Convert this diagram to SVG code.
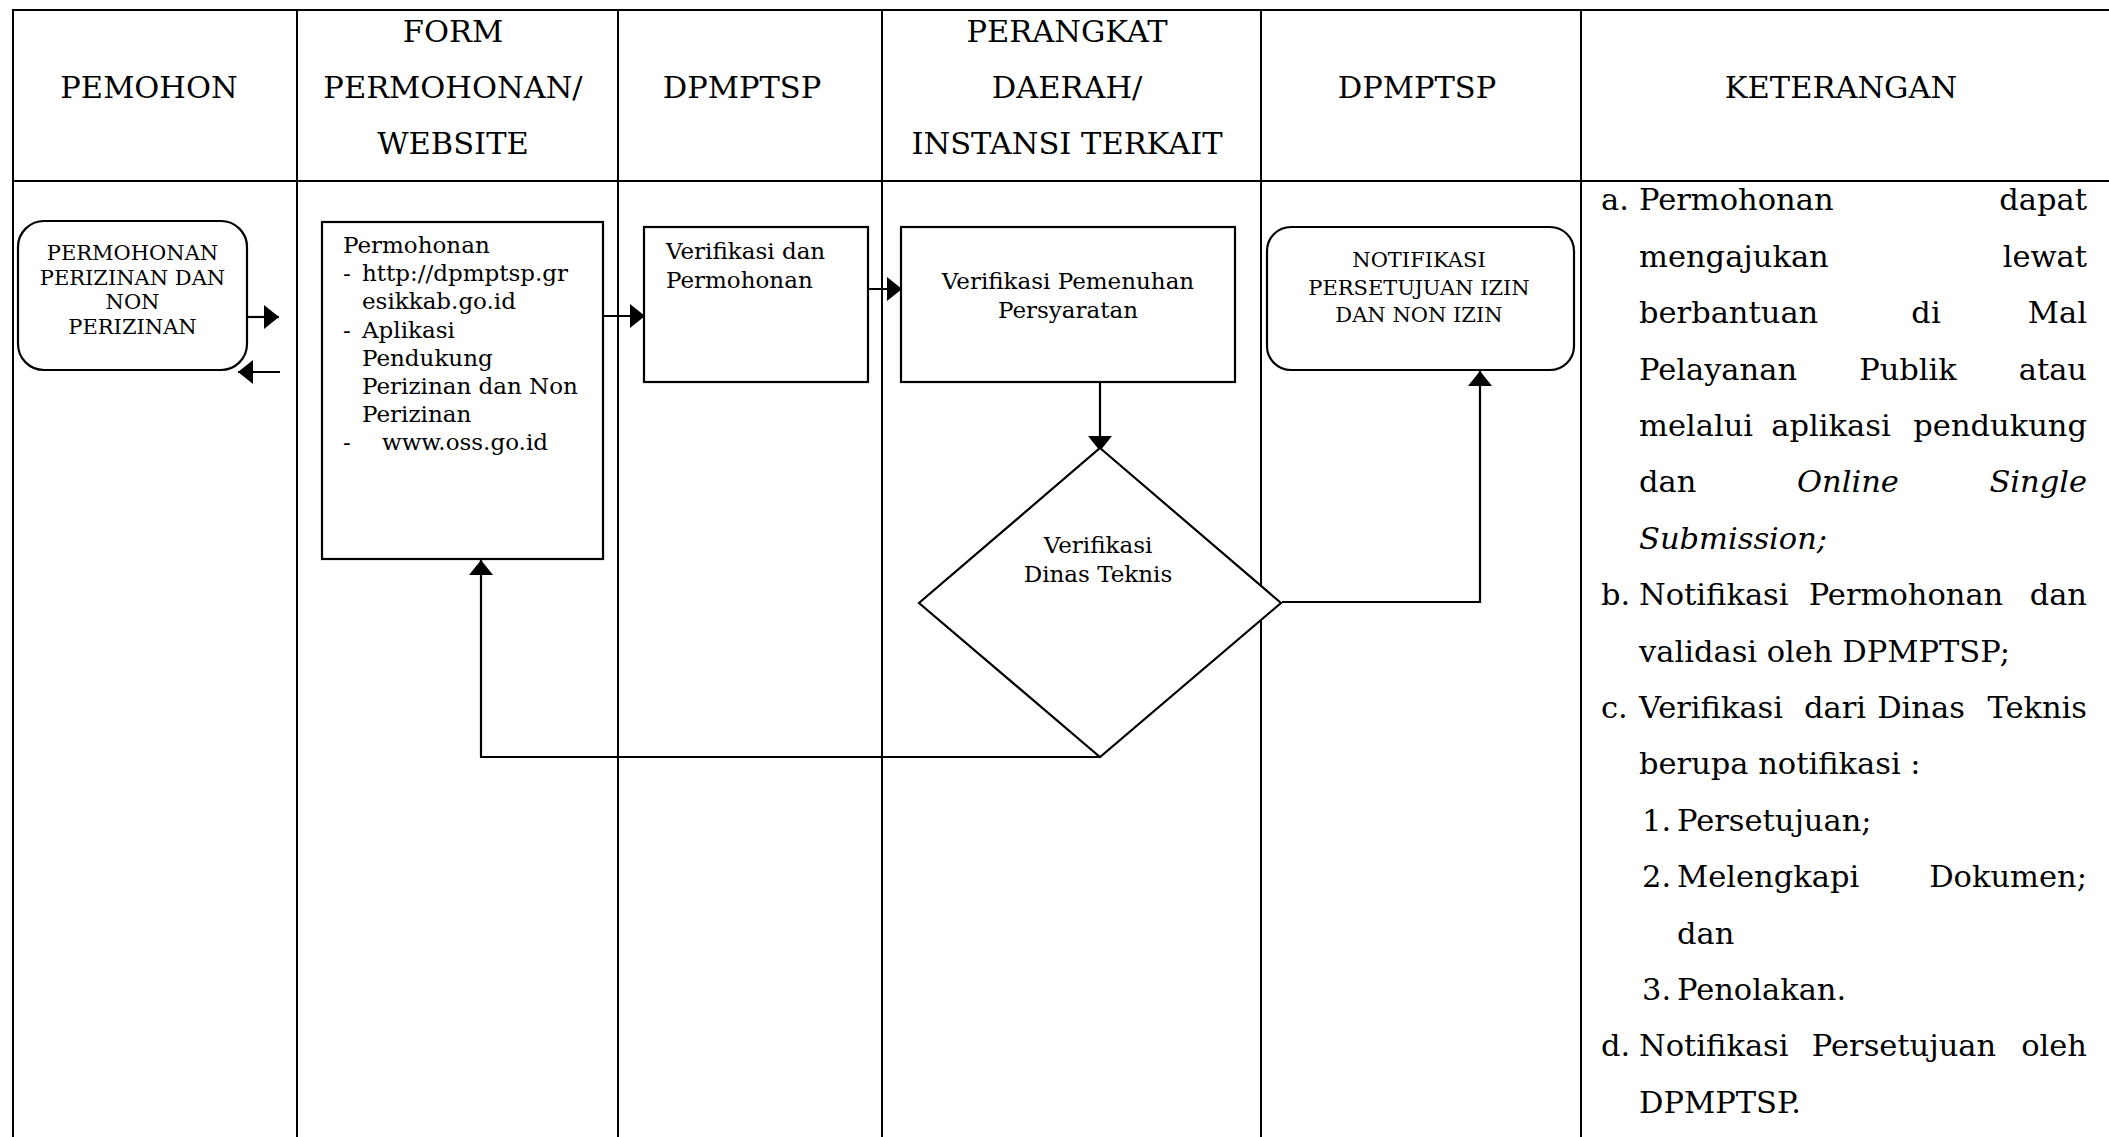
<svg xmlns="http://www.w3.org/2000/svg" width="2109" height="1137" viewBox="0 0 2109 1137">
<defs>
<style>
text{font-family:"DejaVu Serif","Liberation Serif",serif;fill:#000}
.h{font-size:30.5px;text-anchor:middle}
.k{font-size:30.5px}
.ki{font-size:30.5px;font-style:italic}
.e{text-anchor:end}
.m{text-anchor:middle}
.b{font-size:23px}
.c{font-size:21px;text-anchor:middle}
.grid{stroke:#000;stroke-width:2;fill:none}
.box{stroke:#000;stroke-width:2.2;fill:#fff}
.con{stroke:#000;stroke-width:2.2;fill:none}
</style>
<marker id="ah" markerUnits="userSpaceOnUse" markerWidth="16" markerHeight="24" refX="15" refY="12" orient="auto">
<path d="M0,0 L15,12 L0,24 z" fill="#000"/>
</marker>
</defs>
<rect width="2109" height="1137" fill="#fff"/>
<g id="table">
<line class="grid" x1="12" y1="10" x2="2109" y2="10" stroke-width="2.4"/>
<line class="grid" x1="12" y1="181" x2="2109" y2="181" stroke-width="2.6"/>
<line class="grid" x1="13" y1="9" x2="13" y2="1137"/>
<line class="grid" x1="297" y1="9" x2="297" y2="1137"/>
<line class="grid" x1="618" y1="9" x2="618" y2="1137"/>
<line class="grid" x1="882" y1="9" x2="882" y2="1137"/>
<line class="grid" x1="1261" y1="9" x2="1261" y2="1137"/>
<line class="grid" x1="1581" y1="9" x2="1581" y2="1137"/>
<text class="h" x="149" y="98">PEMOHON</text>
<text class="h" x="453" y="41.6">FORM</text>
<text class="h" x="453" y="98">PERMOHONAN/</text>
<text class="h" x="453" y="154.4">WEBSITE</text>
<text class="h" x="742" y="98">DPMPTSP</text>
<text class="h" x="1067" y="41.6">PERANGKAT</text>
<text class="h" x="1067" y="98">DAERAH/</text>
<text class="h" x="1067" y="154.4">INSTANSI TERKAIT</text>
<text class="h" x="1417" y="98">DPMPTSP</text>
<text class="h" x="1841" y="98">KETERANGAN</text>
</g>
<g id="keterangan">
<text class="k" x="1601" y="210.4">a.</text>
<text class="k" x="1639" y="210.4">Permohonan</text>
<text class="k e" x="2087" y="210.4">dapat</text>
<text class="k" x="1639" y="266.8">mengajukan</text>
<text class="k e" x="2087" y="266.8">lewat</text>
<text class="k" x="1639" y="323.2">berbantuan</text>
<text class="k m" x="1926" y="323.2">di</text>
<text class="k e" x="2087" y="323.2">Mal</text>
<text class="k" x="1639" y="379.6">Pelayanan</text>
<text class="k m" x="1908" y="379.6">Publik</text>
<text class="k e" x="2087" y="379.6">atau</text>
<text class="k" x="1639" y="436">melalui</text>
<text class="k m" x="1831" y="436">aplikasi</text>
<text class="k e" x="2087" y="436">pendukung</text>
<text class="k" x="1639" y="492.4">dan</text>
<text class="ki m" x="1848" y="492.4">Online</text>
<text class="ki e" x="2087" y="492.4">Single</text>
<text class="ki" x="1639" y="548.8">Submission;</text>
<text class="k" x="1601" y="605.2">b.</text>
<text class="k" x="1639" y="605.2">Notifikasi</text>
<text class="k m" x="1906" y="605.2">Permohonan</text>
<text class="k e" x="2087" y="605.2">dan</text>
<text class="k" x="1639" y="661.6">validasi oleh DPMPTSP;</text>
<text class="k" x="1601" y="718">c.</text>
<text class="k" x="1639" y="718">Verifikasi</text>
<text class="k m" x="1835" y="718">dari</text>
<text class="k m" x="1921" y="718">Dinas</text>
<text class="k e" x="2087" y="718">Teknis</text>
<text class="k" x="1639" y="774.4">berupa notifikasi :</text>
<text class="k" x="1642" y="830.8">1.</text>
<text class="k" x="1677" y="830.8">Persetujuan;</text>
<text class="k" x="1642" y="887.2">2.</text>
<text class="k" x="1677" y="887.2">Melengkapi</text>
<text class="k e" x="2087" y="887.2">Dokumen;</text>
<text class="k" x="1677" y="943.6">dan</text>
<text class="k" x="1642" y="1000">3.</text>
<text class="k" x="1677" y="1000">Penolakan.</text>
<text class="k" x="1601" y="1056.4">d.</text>
<text class="k" x="1639" y="1056.4">Notifikasi</text>
<text class="k m" x="1904" y="1056.4">Persetujuan</text>
<text class="k e" x="2087" y="1056.4">oleh</text>
<text class="k" x="1639" y="1112.8">DPMPTSP.</text>
</g>
<g id="connectors">
<line class="con" x1="247" y1="317" x2="279" y2="317" marker-end="url(#ah)"/>
<line class="con" x1="280" y1="372" x2="238" y2="372" marker-end="url(#ah)"/>
<line class="con" x1="603" y1="316" x2="645" y2="316" marker-end="url(#ah)"/>
<line class="con" x1="868" y1="289" x2="902" y2="289" marker-end="url(#ah)"/>
<line class="con" x1="1100" y1="382" x2="1100" y2="451" marker-end="url(#ah)"/>
<polyline class="con" points="1282,602 1480,602 1480,371" marker-end="url(#ah)"/>
<polyline class="con" points="1100,757 481,757 481,560" marker-end="url(#ah)"/>
</g>
<g id="node-pemohon">
<rect class="box" x="18" y="221" width="229" height="149" rx="26"/>
<text class="c" x="132.5" y="260">PERMOHONAN</text>
<text class="c" x="132.5" y="284.5">PERIZINAN DAN</text>
<text class="c" x="132.5" y="309">NON</text>
<text class="c" x="132.5" y="333.5">PERIZINAN</text>
</g>
<g id="node-form">
<rect class="box" x="322" y="222" width="281" height="337"/>
<text class="b" x="343" y="253">Permohonan</text>
<text class="b" x="343" y="281.2">-</text>
<text class="b" x="362" y="281.2">http://dpmptsp.gr</text>
<text class="b" x="362" y="309.4">esikkab.go.id</text>
<text class="b" x="343" y="337.6">-</text>
<text class="b" x="362" y="337.6">Aplikasi</text>
<text class="b" x="362" y="365.8">Pendukung</text>
<text class="b" x="362" y="394">Perizinan dan Non</text>
<text class="b" x="362" y="422.2">Perizinan</text>
<text class="b" x="343" y="450.4">-</text>
<text class="b" x="382" y="450.4">www.oss.go.id</text>
</g>
<g id="node-verifikasi">
<rect class="box" x="644" y="227" width="224" height="155"/>
<text class="b" x="666" y="259">Verifikasi dan</text>
<text class="b" x="666" y="288">Permohonan</text>
</g>
<g id="node-pemenuhan">
<rect class="box" x="901" y="227" width="334" height="155"/>
<text class="b m" x="1068" y="289">Verifikasi Pemenuhan</text>
<text class="b m" x="1068" y="318">Persyaratan</text>
</g>
<g id="node-dinas">
<polygon class="box" points="1100,448 1281,603 1100,757 919,603" fill="none"/>
<text class="b m" x="1098" y="553">Verifikasi</text>
<text class="b m" x="1098" y="582">Dinas Teknis</text>
</g>
<g id="node-notifikasi">
<rect class="box" x="1267" y="227" width="307" height="143" rx="24"/>
<text class="c" x="1419" y="267">NOTIFIKASI</text>
<text class="c" x="1419" y="295">PERSETUJUAN IZIN</text>
<text class="c" x="1419" y="322">DAN NON IZIN</text>
</g>
</svg>
